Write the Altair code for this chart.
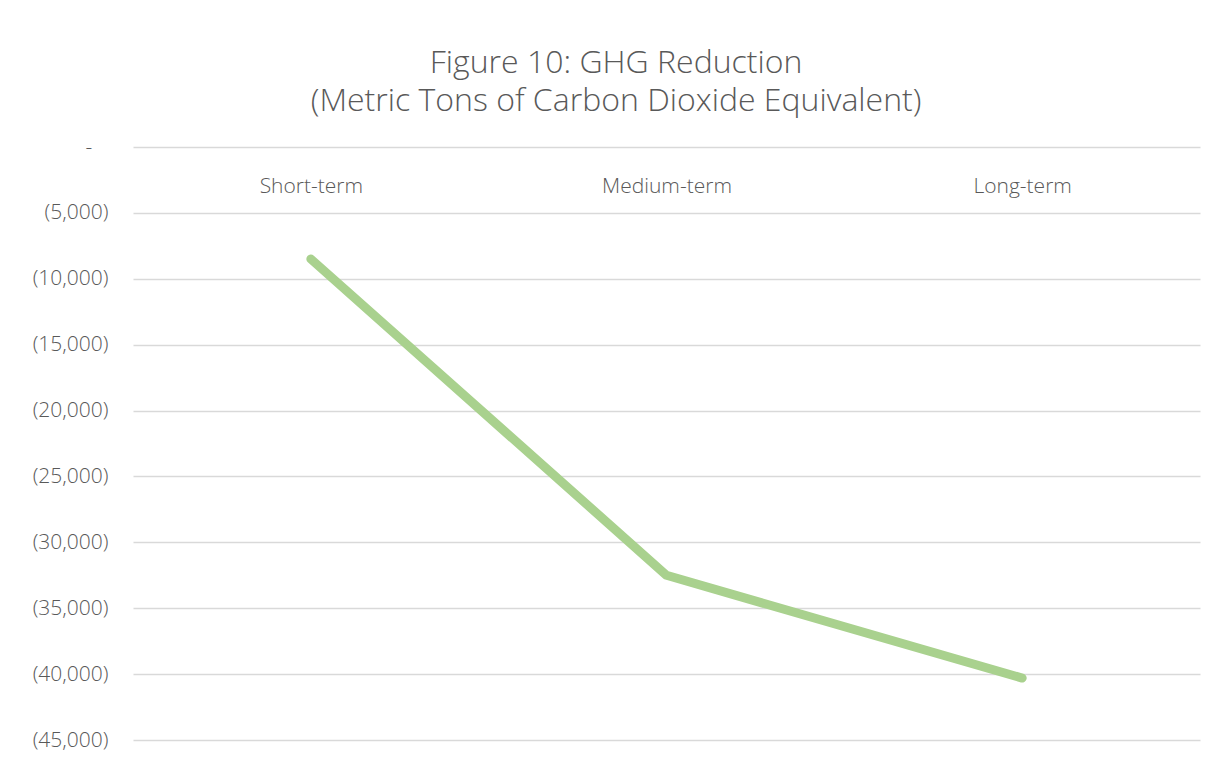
import altair as alt
import pandas as pd

categories = ["Short-term", "Medium-term", "Long-term"]
ghg_reduction = [-8500, -32500, -40300]
y_ticks = [0, -5000, -10000, -15000, -20000, -25000, -30000, -35000, -40000, -45000]

df = pd.DataFrame({"period": categories, "value": ghg_reduction})

FONT = "Open Sans"
GREY = "#595959"

chart = alt.Chart(df).mark_line(
    color="#a9d18e", strokeWidth=9, strokeCap="round", strokeJoin="round"
).encode(
    x=alt.X("period:N", sort=categories,
            scale=alt.Scale(type="point", padding=0.5),
            axis=alt.Axis(orient="top", title=None, domain=False, ticks=False, tickSize=0,
                          grid=False, labelAngle=0, labelPadding=-39, labelBaseline="middle",
                          labelFont=FONT, labelFontSize=21, labelFontWeight=300, labelColor=GREY)),
    y=alt.Y("value:Q",
            scale=alt.Scale(domain=[-45000, 0], nice=False, zero=False),
            axis=alt.Axis(title=None, values=y_ticks, domain=False, ticks=False, tickSize=0,
                          labelPadding=25, labelFont=FONT, labelFontSize=21, labelFontWeight=300,
                          labelColor=GREY, gridColor="#d9d9d9", gridWidth=1.3,
                          labelExpr="datum.value == 0 ? '-\u00a0\u00a0\u00a0\u200b' : '(' + format(-datum.value, ',') + ')'")),
).properties(
    width=1067,
    height=593,
    background="white",
    title=alt.TitleParams(
        text=["Figure 10: GHG Reduction", "(Metric Tons of Carbon Dioxide Equivalent)"],
        font=FONT, fontSize=32, fontWeight=300, color=GREY, lineHeight=38,
        anchor="middle", frame="bounds", offset=18,
    ),
    autosize=alt.AutoSizeParams(type="none"),
    padding={"left": 125, "top": 139, "right": 17, "bottom": 17},
).configure_view(strokeWidth=0, stroke=None)

chart.save("out.html", embed_options={"renderer": "svg", "actions": False})
